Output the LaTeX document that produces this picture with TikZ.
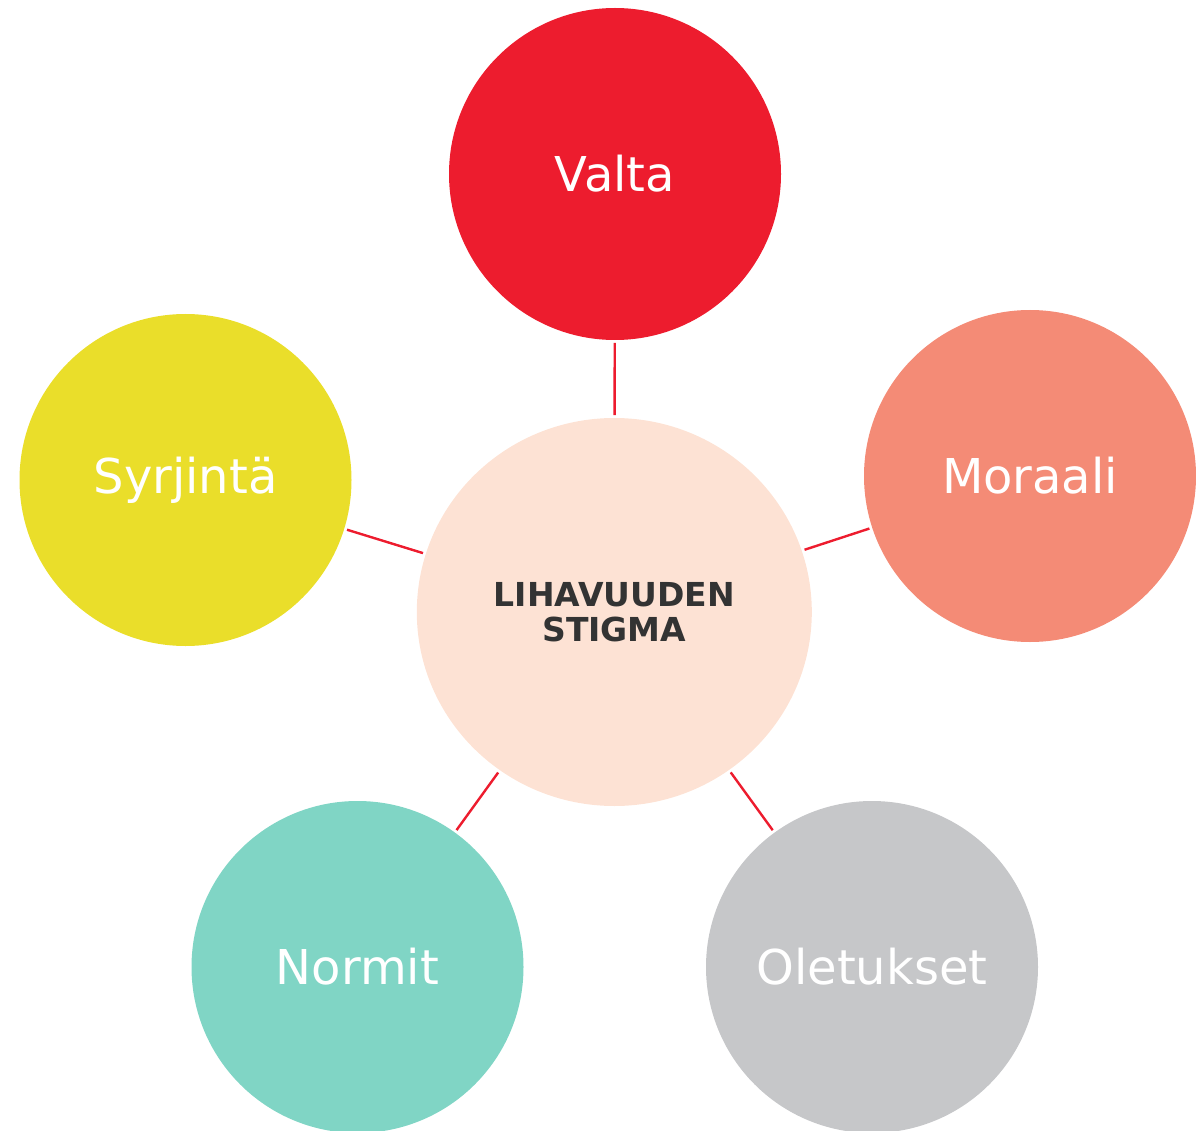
\documentclass[tikz,border=0pt]{standalone}
\usepackage{fontspec}
\setmainfont{DejaVu Sans}
\usetikzlibrary{shapes.geometric}
\definecolor{cvalta}{HTML}{ED1C2E}
\definecolor{cmoraali}{HTML}{F48B76}
\definecolor{csyrj}{HTML}{EADE2A}
\definecolor{cnormit}{HTML}{80D5C5}
\definecolor{colet}{HTML}{C6C7C9}
\definecolor{ccenter}{HTML}{FDE2D4}
\definecolor{ctext}{HTML}{333333}
\definecolor{cline}{HTML}{ED1C2E}
\begin{document}
\begin{tikzpicture}[x=1pt,y=-1pt,
  outer/.style={circle,minimum size=332pt,inner sep=0pt,outer sep=0pt,text=white,
    font=\fontsize{48}{56}\selectfont},
  link/.style={draw=cline,line width=2.4pt,shorten <=3pt,shorten >=3pt}]
\useasboundingbox (0,0) rectangle (1196,1131);
\clip (0,0) rectangle (1196,1131);
\node[ellipse,fill=ccenter,minimum width=395pt,minimum height=388pt,inner sep=0pt,outer sep=0pt,
  align=center,text=ctext,font=\bfseries\fontsize{33}{35}\selectfont] (c) at (614.3,612) {LIHAVUUDEN\\STIGMA};
\node[outer,fill=cvalta] (v) at (615,174) {Valta};
\node[outer,fill=cmoraali] (m) at (1030,476) {Moraali};
\node[outer,fill=csyrj] (s) at (185.5,480) {Syrjintä};
\node[outer,fill=cnormit] (n) at (357.5,967) {Normit};
\node[outer,fill=colet] (o) at (872,967) {Oletukset};
\draw[link] (c) -- (v);
\draw[link] (c) -- (m);
\draw[link] (c) -- (s);
\draw[link] (c) -- (n);
\draw[link] (c) -- (o);
\end{tikzpicture}
\end{document}
